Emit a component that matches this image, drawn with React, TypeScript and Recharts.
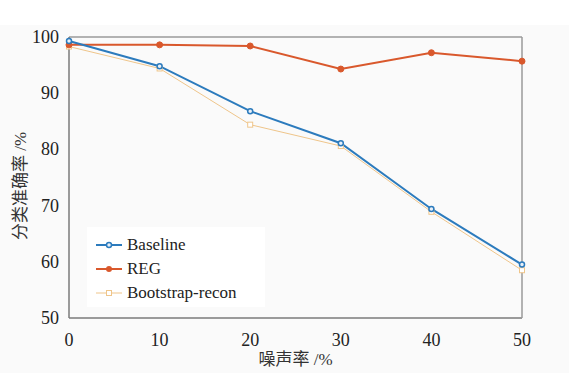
import { Line, LineChart, XAxis, YAxis } from "recharts";

const noiseRates = [0, 10, 20, 30, 40, 50];
const baseline = [99.3, 94.8, 86.8, 81.1, 69.4, 59.5];
const reg = [98.6, 98.6, 98.4, 94.3, 97.2, 95.7];
const bootstrapRecon = [98.3, 94.4, 84.4, 80.6, 68.9, 58.5];
const yTicks = [50, 60, 70, 80, 90, 100];

const data = noiseRates.map((rate, i) => ({
  rate,
  baseline: baseline[i],
  reg: reg[i],
  bootstrap: bootstrapRecon[i],
}));

const FONT = "Liberation Serif, Noto Sans CJK SC, serif";
const AXIS = "#7a7a7a";
const BLUE = "#2c7bbd";
const ORANGE = "#d9582c";
const TAN = "#efc58a";

const legendItems = [
  { name: "Baseline", color: BLUE, width: 2, shape: "circle" },
  { name: "REG", color: ORANGE, width: 2, shape: "dot" },
  { name: "Bootstrap-recon", color: TAN, width: 1, shape: "square" },
];

function LegendBox() {
  return (
    <div
      style={{
        position: "absolute",
        left: 87,
        top: 227,
        background: "#ffffff",
        width: 178,
        height: 80,
        boxSizing: "border-box",
        paddingTop: 6,
        fontFamily: FONT,
        fontSize: 17,
        lineHeight: "24px",
        color: "#222",
      }}
    >
      {legendItems.map((item) => (
        <div key={item.name} style={{ display: "flex", alignItems: "center", height: 24 }}>
          <svg width={36} height={12} style={{ marginLeft: 8 }}>
            <line x1={1} y1={6} x2={27} y2={6} stroke={item.color} strokeWidth={item.width} />
            {item.shape === "circle" && (
              <circle cx={14} cy={6} r={2.5} fill="#e8f0f8" stroke={item.color} strokeWidth={1.5} />
            )}
            {item.shape === "dot" && <circle cx={14} cy={6} r={3} fill={item.color} />}
            {item.shape === "square" && (
              <rect x={11.5} y={3.5} width={5} height={5} fill="#fff" stroke={item.color} strokeWidth={1} />
            )}
          </svg>
          <span style={{ marginLeft: -4 }}>{item.name}</span>
        </div>
      ))}
    </div>
  );
}

const XTick = (props: any) => (
  <text x={props.x} y={props.y + 20} textAnchor="middle" fontFamily={FONT} fontSize={18} fill="#222">
    {props.payload.value}
  </text>
);

const YTick = (props: any) => (
  <text x={props.x - 2} y={props.y} dy={6} textAnchor="end" fontFamily={FONT} fontSize={18} fill="#222">
    {props.payload.value}
  </text>
);

const XTitle = (props: any) => {
  const vb = props.viewBox;
  return (
    <text x={vb.x + vb.width / 2} y={vb.y + 47} textAnchor="middle" fontFamily={FONT} fontSize={17} fill="#333">
      噪声率 /%
    </text>
  );
};

const YTitle = () => (
  <text x={0} y={0} transform="translate(26 186) rotate(-90)" textAnchor="middle" fontFamily={FONT} fontSize={17} fill="#333">
    分类准确率 /%
  </text>
);

export default function App() {
  return (
    <div style={{ position: "absolute", left: 0, top: 0, width: 569, height: 373, background: "#ffffff", fontFamily: FONT }}>
      <div style={{ position: "absolute", left: 0, top: 25, width: 569, height: 348, background: "#fafafa" }} />
      <div style={{ position: "absolute", left: 0, top: 0 }}>
        <LineChart width={569} height={373} data={data} margin={{ top: 37, right: 47, bottom: 25, left: 0 }}>
          <XAxis
            xAxisId="main"
            dataKey="rate"
            type="number"
            domain={[0, 50]}
            ticks={noiseRates}
            tick={<XTick />}
            tickLine={false}
            axisLine={{ stroke: AXIS, strokeWidth: 1.5 }}
            height={30}
            label={<XTitle />}
          />
          <XAxis xAxisId="inBottom" dataKey="rate" type="number" domain={[0, 50]} ticks={noiseRates} mirror orientation="bottom" tick={false} tickSize={4} tickLine={{ stroke: AXIS }} axisLine={false} />
          <XAxis xAxisId="inTop" dataKey="rate" type="number" domain={[0, 50]} ticks={noiseRates} mirror orientation="top" tick={false} tickSize={4} tickLine={{ stroke: AXIS }} axisLine={{ stroke: "#9a9a9a", strokeWidth: 1.5 }} />
          <YAxis
            yAxisId="main"
            domain={[50, 100]}
            ticks={yTicks}
            tick={<YTick />}
            tickLine={false}
            axisLine={{ stroke: AXIS, strokeWidth: 1.5 }}
            width={69}
            label={<YTitle />}
          />
          <YAxis yAxisId="inLeft" domain={[50, 100]} ticks={yTicks} mirror orientation="left" tick={false} tickSize={4} tickLine={{ stroke: AXIS }} axisLine={false} />
          <YAxis yAxisId="inRight" domain={[50, 100]} ticks={yTicks} mirror orientation="right" tick={false} tickSize={4} tickLine={{ stroke: AXIS }} axisLine={{ stroke: "#9a9a9a", strokeWidth: 1.5 }} />
          <Line
            xAxisId="main"
            yAxisId="main"
            dataKey="bootstrap"
            stroke={TAN}
            strokeWidth={1}
            dot={(props: any) => (
              <rect key={props.index} x={props.cx - 2.5} y={props.cy - 2.5} width={5} height={5} fill="#fff" stroke={TAN} strokeWidth={1} />
            )}
            isAnimationActive={false}
          />
          <Line
            xAxisId="main"
            yAxisId="main"
            dataKey="reg"
            stroke={ORANGE}
            strokeWidth={2}
            dot={{ r: 3, fill: ORANGE, stroke: ORANGE, strokeWidth: 1 }}
            isAnimationActive={false}
          />
          <Line
            xAxisId="main"
            yAxisId="main"
            dataKey="baseline"
            stroke={BLUE}
            strokeWidth={2}
            dot={{ r: 2.5, fill: "#e8f0f8", stroke: BLUE, strokeWidth: 1.5 }}
            isAnimationActive={false}
          />
        </LineChart>
      </div>
      <LegendBox />
    </div>
  );
}
